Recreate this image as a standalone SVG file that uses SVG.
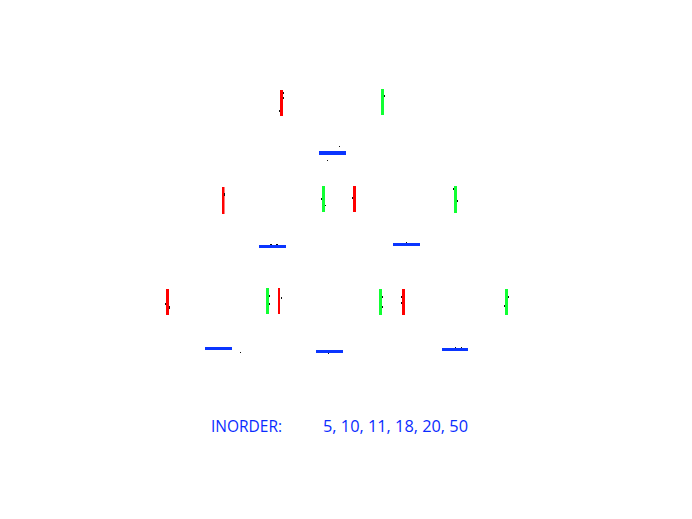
<svg xmlns="http://www.w3.org/2000/svg" width="692" height="519" viewBox="0 0 692 519">
<style>
.l{fill:#ff0000}
.r{fill:#11ff33}
.v{fill:#0a35ff}
.k{fill:#111111}
.t{font-family:"Open Sans","Noto Sans",sans-serif;font-size:16px;fill:#0a2cff}
</style>
<rect width="692" height="519" fill="#ffffff"/>
<g id="connectors"></g>
<g id="node-root">
<rect class="l" x="280" y="90" width="3" height="26"/>
<rect class="k" x="283" y="92" width="1" height="2"/><rect class="k" x="283" y="97" width="1" height="2"/><rect class="k" x="279" y="110" width="1" height="2"/>
<rect class="r" x="381" y="89" width="3" height="26"/>
<rect class="k" x="384" y="95" width="1" height="2"/>
<rect class="v" x="319" y="151" width="27" height="4"/>
<rect class="k" x="339" y="146" width="1" height="1"/><rect class="k" x="327" y="160" width="1" height="1"/>
</g>
<g id="node-left">
<rect class="l" x="222" y="187" width="2.5" height="27"/>
<rect class="k" x="224" y="193" width="1" height="3"/>
<rect class="r" x="322" y="186" width="3" height="26"/>
<rect class="k" x="321" y="198" width="1" height="2"/><rect class="k" x="325" y="205" width="1" height="1"/>
<rect class="v" x="259" y="245" width="27" height="3"/>
<rect class="k" x="270" y="244" width="2" height="1"/><rect class="k" x="276" y="244" width="2" height="1"/>
</g>
<g id="node-right">
<rect class="l" x="353" y="186" width="3" height="26"/>
<rect class="k" x="352" y="197" width="1" height="2"/>
<rect class="r" x="454" y="186" width="3" height="27"/>
<rect class="k" x="453" y="188" width="1" height="2"/><rect class="k" x="457" y="200" width="1" height="2"/>
<rect class="v" x="393" y="243" width="27" height="3"/>
<rect class="k" x="406" y="242" width="1" height="1"/>
</g>
<g id="node-ll">
<rect class="l" x="166" y="289" width="3" height="26"/>
<rect class="k" x="165" y="303" width="1" height="2"/><rect class="k" x="169" y="306" width="1" height="3"/>
<rect class="r" x="266" y="288" width="3" height="26"/>
<rect class="k" x="269" y="295" width="1" height="2"/><rect class="k" x="269" y="303" width="1" height="2"/>
<rect class="l" x="278" y="288" width="2" height="26"/>
<rect class="k" x="281" y="297" width="1" height="2"/>
<rect class="v" x="205" y="347" width="27" height="3"/>
<rect class="k" x="240" y="352" width="1" height="1"/>
</g>
<g id="node-lr">
<rect class="r" x="379" y="289" width="3" height="26"/>
<rect class="k" x="382" y="296" width="1" height="2"/><rect class="k" x="382" y="306" width="1" height="2"/>
<rect class="l" x="402" y="289" width="3" height="26"/>
<rect class="k" x="401" y="296" width="1" height="2"/><rect class="k" x="401" y="302" width="1" height="2"/>
<rect class="v" x="316" y="350" width="27" height="3"/>
<rect class="k" x="328" y="353" width="1" height="1"/>
</g>
<g id="node-rr">
<rect class="r" x="505" y="289" width="3" height="26"/>
<rect class="k" x="508" y="296" width="1" height="2"/><rect class="k" x="504" y="305" width="1" height="2"/>
<rect class="v" x="442" y="348" width="26" height="3"/>
<rect class="k" x="455" y="347" width="1" height="1"/><rect class="k" x="461" y="347" width="1" height="1"/>
</g>
<g id="inorder-label">
<text class="t" x="211" y="432" textLength="71" lengthAdjust="spacingAndGlyphs">INORDER:</text>
<text class="t" x="323" y="432" textLength="145" lengthAdjust="spacingAndGlyphs">5, 10, 11, 18, 20, 50</text>
</g>
</svg>
